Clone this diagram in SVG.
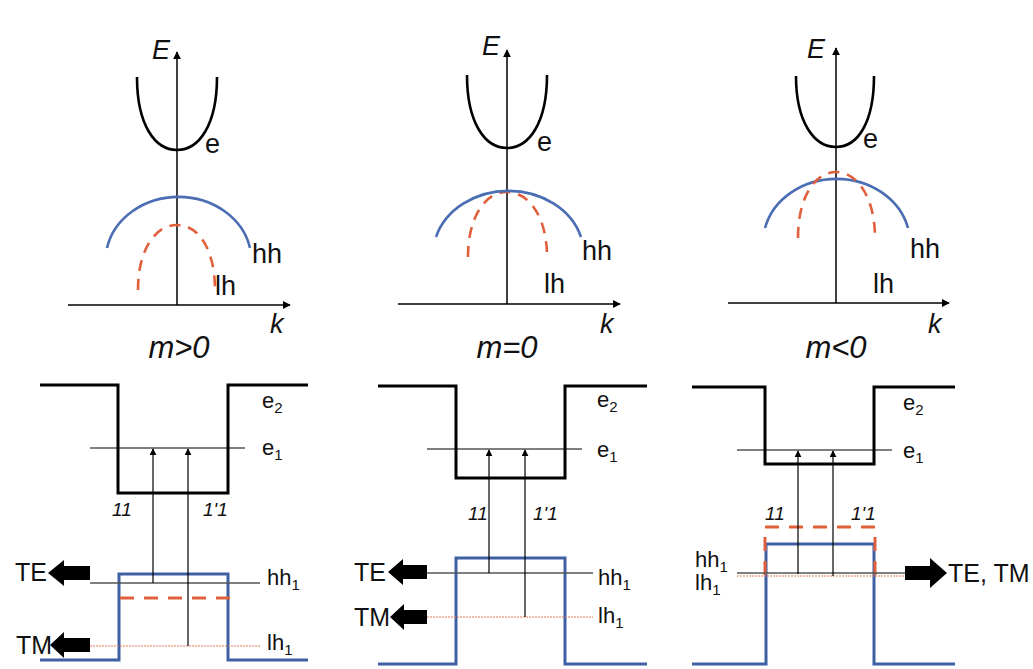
<svg xmlns="http://www.w3.org/2000/svg" width="1033" height="669" viewBox="0 0 1033 669">
<defs>
<marker id="ax" viewBox="0 0 10 10" refX="9" refY="5" markerWidth="8" markerHeight="8" markerUnits="userSpaceOnUse" orient="auto"><path d="M0,0 L10,5 L0,10 z" fill="#000"/></marker>
<marker id="up" viewBox="0 0 10 10" refX="9" refY="5" markerWidth="7" markerHeight="7" markerUnits="userSpaceOnUse" orient="auto"><path d="M0,0 L10,5 L0,10 z" fill="#000"/></marker>
</defs>
<style>
.axis{stroke:#000;stroke-width:1.5;fill:none}
.e{stroke:#000;stroke-width:2.6;fill:none}
.hh{stroke:#4A6DB3;stroke-width:2.6;fill:none}
.lh{stroke:#E0603C;stroke-width:2.6;fill:none;stroke-dasharray:11 8}
.well{stroke:#000;stroke-width:3;fill:none}
.bar{stroke:#3F60A5;stroke-width:3;fill:none}
.lvl{stroke:#000;stroke-width:1.2;fill:none}
.hl{stroke:#555;stroke-width:1.3;fill:none}
.ll{stroke:#E07A5A;stroke-width:1;fill:none;stroke-dasharray:2 1}
.rd{stroke:#E0603C;stroke-width:3;fill:none;stroke-dasharray:14 10}
.tr{stroke:#000;stroke-width:1.2;fill:none}
.blk{fill:#000}
text{font-family:"Liberation Sans",Arial,sans-serif;fill:#111}
.lab{font-size:27px}
.ax{font-size:27px;font-style:italic}
.m{font-size:31px;font-style:italic}
.sm{font-size:22px}
.sub{font-size:15px}
.n{font-size:19px;font-style:italic}
.big{font-size:25px}
</style>

<g id="band-m-pos">
<line class="axis" x1="177" y1="305" x2="177" y2="52" marker-end="url(#ax)"/>
<line class="axis" x1="68" y1="305" x2="290" y2="305" marker-end="url(#ax)"/>
<path class="e" d="M137,77 C137,125 155,150 177,150 C199,150 217,125 217,77"/>
<path class="hh" d="M107,248 A73,64 0 0 1 250,248"/>
<path class="lh" d="M138,290 C138,250 155,225 177,225 C199,225 215,250 215,290"/>
<text class="ax" x="152" y="59">E</text>
<text class="lab" x="205" y="153">e</text>
<text class="lab" x="252" y="263">hh</text>
<text class="lab" x="215" y="295">lh</text>
<text class="ax" x="270" y="333">k</text>
<text class="m" x="179" y="358" text-anchor="middle">m&gt;0</text>
</g>

<g id="band-m-zero">
<line class="axis" x1="507" y1="304" x2="507" y2="50" marker-end="url(#ax)"/>
<line class="axis" x1="398" y1="304" x2="620" y2="304" marker-end="url(#ax)"/>
<path class="e" d="M467,75 C467,123 485,148 507,148 C529,148 547,123 547,75"/>
<path class="lh" d="M468,257 C468,217 485,192 507,192 C529,192 547,217 547,257"/>
<path class="hh" d="M436,237 A75.5,64 0 0 1 581,237"/>
<text class="ax" x="482" y="55">E</text>
<text class="lab" x="537" y="151">e</text>
<text class="lab" x="582" y="260">hh</text>
<text class="lab" x="544" y="293">lh</text>
<text class="ax" x="600" y="333">k</text>
<text class="m" x="507" y="358" text-anchor="middle">m=0</text>
</g>

<g id="band-m-neg">
<line class="axis" x1="836" y1="303" x2="836" y2="48" marker-end="url(#ax)"/>
<line class="axis" x1="728" y1="303" x2="949" y2="303" marker-end="url(#ax)"/>
<path class="e" d="M796,76 C796,122 814,147 836,147 C858,147 874,122 874,76"/>
<path class="hh" d="M765,228 A73.5,64 0 0 1 908,228"/>
<path class="lh" d="M798,238 C798,197 815,172 836,172 C857,172 875,197 875,238"/>
<text class="ax" x="807" y="58">E</text>
<text class="lab" x="863" y="148">e</text>
<text class="lab" x="910" y="258">hh</text>
<text class="lab" x="873" y="293">lh</text>
<text class="ax" x="928" y="333">k</text>
<text class="m" x="836" y="358" text-anchor="middle">m&lt;0</text>
</g>

<g id="well-m-pos">
<path class="well" d="M40,385 H118 V493 H228 V385 H308"/>
<line class="lvl" x1="90" y1="448" x2="245" y2="448"/>
<path class="bar" d="M40,660 H119 V574 H228 V660 H308"/>
<line class="hl" x1="90" y1="583" x2="260" y2="583"/>
<line class="rd" x1="120" y1="598" x2="235" y2="598"/>
<line class="ll" x1="90" y1="646" x2="260" y2="646"/>
<text class="sm" x="262" y="408">e<tspan class="sub" dy="5">2</tspan></text>
<text class="sm" x="262" y="455">e<tspan class="sub" dy="5">1</tspan></text>
<text class="sm" x="267" y="585">hh<tspan class="sub" dy="5">1</tspan></text>
<text class="sm" x="267" y="650">lh<tspan class="sub" dy="5">1</tspan></text>
<text class="n" x="112" y="516">11</text>
<text class="n" x="203" y="516">1'1</text>
<polygon class="blk" points="90,566 64,566 64,560 48,573 64,586 64,580 90,580"/>
<polygon class="blk" points="90,638 64,638 64,632 50,645 64,658 64,652 90,652"/>
<text class="big" x="47" y="581" text-anchor="end">TE</text>
<text class="big" x="52" y="654" text-anchor="end">TM</text>
</g>

<g id="well-m-zero">
<path class="well" d="M378,386 H456 V478 H565 V386 H647"/>
<line class="lvl" x1="427" y1="449" x2="582" y2="449"/>
<path class="bar" d="M378,664 H456 V558 H565 V664 H647"/>
<line class="hl" x1="427" y1="573" x2="593" y2="573"/>
<line class="ll" x1="427" y1="617" x2="593" y2="617"/>
<text class="sm" x="597" y="407">e<tspan class="sub" dy="5">2</tspan></text>
<text class="sm" x="597" y="457">e<tspan class="sub" dy="5">1</tspan></text>
<text class="sm" x="598" y="585">hh<tspan class="sub" dy="5">1</tspan></text>
<text class="sm" x="598" y="623">lh<tspan class="sub" dy="5">1</tspan></text>
<text class="n" x="468" y="520">11</text>
<text class="n" x="533" y="520">1'1</text>
<polygon class="blk" points="427,565 403,565 403,559 388,572 403,585 403,579 427,579"/>
<polygon class="blk" points="427,610 404,610 404,604 390,617 404,630 404,624 427,624"/>
<text class="big" x="386" y="581" text-anchor="end">TE</text>
<text class="big" x="390" y="626" text-anchor="end">TM</text>
</g>

<g id="well-m-neg">
<path class="well" d="M692,387 H765 V464 H874 V387 H955"/>
<line class="lvl" x1="737" y1="450" x2="892" y2="450"/>
<path class="bar" d="M692,664 H766 V544 H874 V664 H955"/>
<path class="rd" d="M765,575 V527 H875 V575"/>
<line class="hl" x1="737" y1="573" x2="905" y2="573"/>
<line class="ll" x1="737" y1="576" x2="905" y2="576"/>
<text class="sm" x="903" y="410">e<tspan class="sub" dy="5">2</tspan></text>
<text class="sm" x="903" y="458">e<tspan class="sub" dy="5">1</tspan></text>
<text class="sm" x="695" y="567">hh<tspan class="sub" dy="5">1</tspan></text>
<text class="sm" x="695" y="590">lh<tspan class="sub" dy="5">1</tspan></text>
<text class="n" x="765" y="520">11</text>
<text class="n" x="851" y="520">1'1</text>
<polygon class="blk" points="905,566 930,566 930,558 947,573 930,588 930,580 905,580"/>
<text class="big" x="948" y="582">TE, TM</text>
</g>

<g id="connectors">
<line class="tr" x1="153" y1="583" x2="153" y2="449" marker-end="url(#up)"/>
<line class="tr" x1="188" y1="646" x2="188" y2="449" marker-end="url(#up)"/>
<line class="tr" x1="489" y1="573" x2="489" y2="450" marker-end="url(#up)"/>
<line class="tr" x1="525" y1="617" x2="525" y2="450" marker-end="url(#up)"/>
<line class="tr" x1="798" y1="574" x2="798" y2="451" marker-end="url(#up)"/>
<line class="tr" x1="833" y1="576" x2="833" y2="451" marker-end="url(#up)"/>
</g>
</svg>
